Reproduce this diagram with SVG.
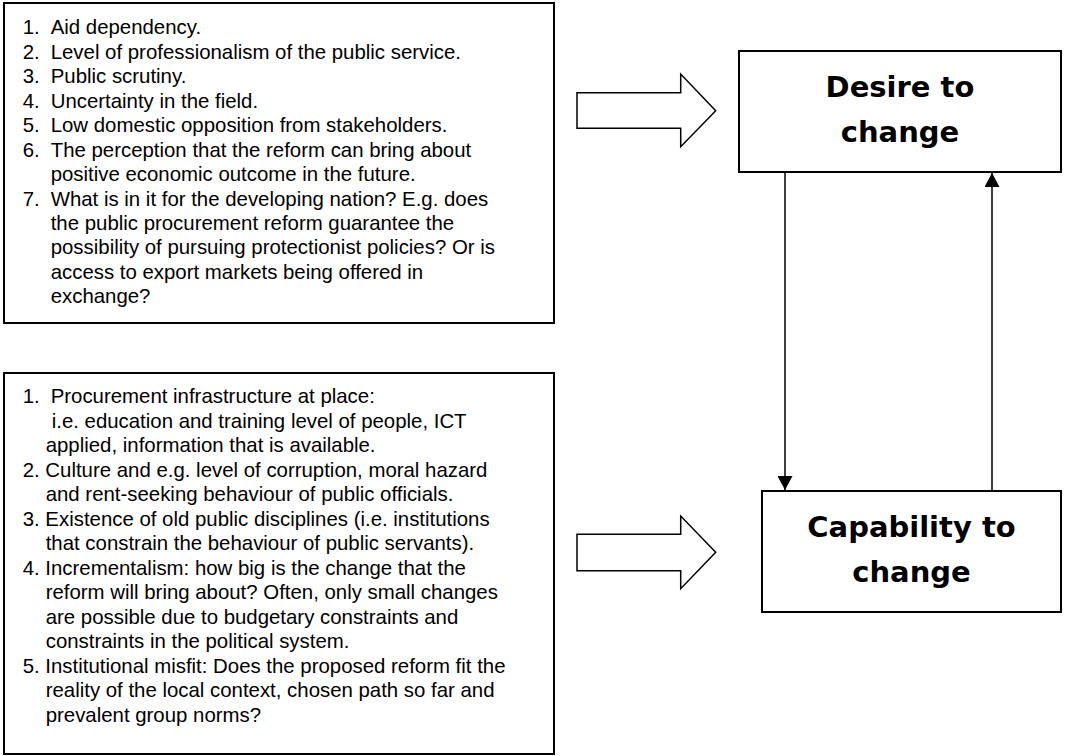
<svg xmlns="http://www.w3.org/2000/svg" width="1085" height="756" viewBox="0 0 1085 756">
<style>
.box{fill:#fff;stroke:#000;stroke-width:2}
.t{font-family:"Liberation Sans",Arial,sans-serif;font-size:20.4px;fill:#000}
.b{font-family:"DejaVu Sans",Verdana,sans-serif;font-weight:bold;font-size:29px;fill:#000;text-anchor:middle}
.blk{fill:#fff;stroke:#000;stroke-width:1.5;stroke-linejoin:miter}
.con{stroke:#000;stroke-width:1.5;fill:none}
</style>
<defs>
<marker id="ah" viewBox="0 0 14 15" refX="14" refY="7.5" markerWidth="14" markerHeight="15" markerUnits="userSpaceOnUse" orient="auto">
<path d="M0,0 L14,7.5 L0,15 Z" fill="#000"/>
</marker>
</defs>
<g id="factors-desire">
<rect class="box" x="4" y="3" width="550" height="320"/>
<text class="t"><tspan x="22.7" y="34.3">1.</tspan><tspan x="50.7" y="34.3">Aid dependency.</tspan></text>
<text class="t"><tspan x="22.7" y="58.8">2.</tspan><tspan x="50.7" y="58.8">Level of professionalism of the public service.</tspan></text>
<text class="t"><tspan x="22.7" y="83.2">3.</tspan><tspan x="50.7" y="83.2">Public scrutiny.</tspan></text>
<text class="t"><tspan x="22.7" y="107.7">4.</tspan><tspan x="50.7" y="107.7">Uncertainty in the field.</tspan></text>
<text class="t"><tspan x="22.7" y="132.1">5.</tspan><tspan x="50.7" y="132.1">Low domestic opposition from stakeholders.</tspan></text>
<text class="t"><tspan x="22.7" y="156.6">6.</tspan><tspan x="50.7" y="156.6">The perception that the reform can bring about</tspan></text>
<text class="t" x="50.7" y="181">positive economic outcome in the future.</text>
<text class="t"><tspan x="22.7" y="205.5">7.</tspan><tspan x="50.7" y="205.5">What is in it for the developing nation? E.g. does</tspan></text>
<text class="t" x="50.7" y="229.9">the public procurement reform guarantee the</text>
<text class="t" x="50.7" y="254.4">possibility of pursuing protectionist policies? Or is</text>
<text class="t" x="50.7" y="278.8">access to export markets being offered in</text>
<text class="t" x="50.7" y="303.3">exchange?</text>
</g>
<g id="factors-capability">
<rect class="box" x="4" y="373" width="550" height="381"/>
<text class="t"><tspan x="22.7" y="403.3">1.</tspan><tspan x="50.7" y="403.3">Procurement infrastructure at place:</tspan></text>
<text class="t" x="51.7" y="427.8">i.e. education and training level of people, ICT</text>
<text class="t" x="45.7" y="452.3">applied, information that is available.</text>
<text class="t" x="22.7" y="476.8">2. Culture and e.g. level of corruption, moral hazard</text>
<text class="t" x="45.7" y="501.3">and rent-seeking behaviour of public officials.</text>
<text class="t" x="22.7" y="525.8">3. Existence of old public disciplines (i.e. institutions</text>
<text class="t" x="45.7" y="550.3">that constrain the behaviour of public servants).</text>
<text class="t" x="22.7" y="574.8">4. Incrementalism: how big is the change that the</text>
<text class="t" x="45.7" y="599.3">reform will bring about? Often, only small changes</text>
<text class="t" x="45.7" y="623.8">are possible due to budgetary constraints and</text>
<text class="t" x="45.7" y="648.3">constraints in the political system.</text>
<text class="t" x="22.7" y="672.8">5. Institutional misfit: Does the proposed reform fit the</text>
<text class="t" x="45.7" y="697.3">reality of the local context, chosen path so far and</text>
<text class="t" x="45.7" y="721.8">prevalent group norms?</text>
</g>
<g id="arrow-desire">
<path class="blk" d="M577,92.7 H680.7 V74 L715.7,110.7 L680.7,146.7 V128.3 H577 Z"/>
</g>
<g id="arrow-capability">
<path class="blk" d="M577,534.3 H680.7 V516 L715.7,552.3 L680.7,588.7 V570.7 H577 Z"/>
</g>
<g id="desire">
<rect class="box" x="739" y="51" width="322" height="121"/>
<text class="b" x="900" y="97.3">Desire to</text>
<text class="b" x="900" y="141.7">change</text>
</g>
<g id="capability">
<rect class="box" x="762" y="491" width="299" height="121"/>
<text class="b" x="911.5" y="536.7">Capability to</text>
<text class="b" x="911.5" y="581.7">change</text>
</g>
<g id="connectors">
<line class="con" x1="785" y1="173" x2="785" y2="490" marker-end="url(#ah)"/>
<line class="con" x1="992" y1="490" x2="992" y2="173" marker-end="url(#ah)"/>
</g>
</svg>
